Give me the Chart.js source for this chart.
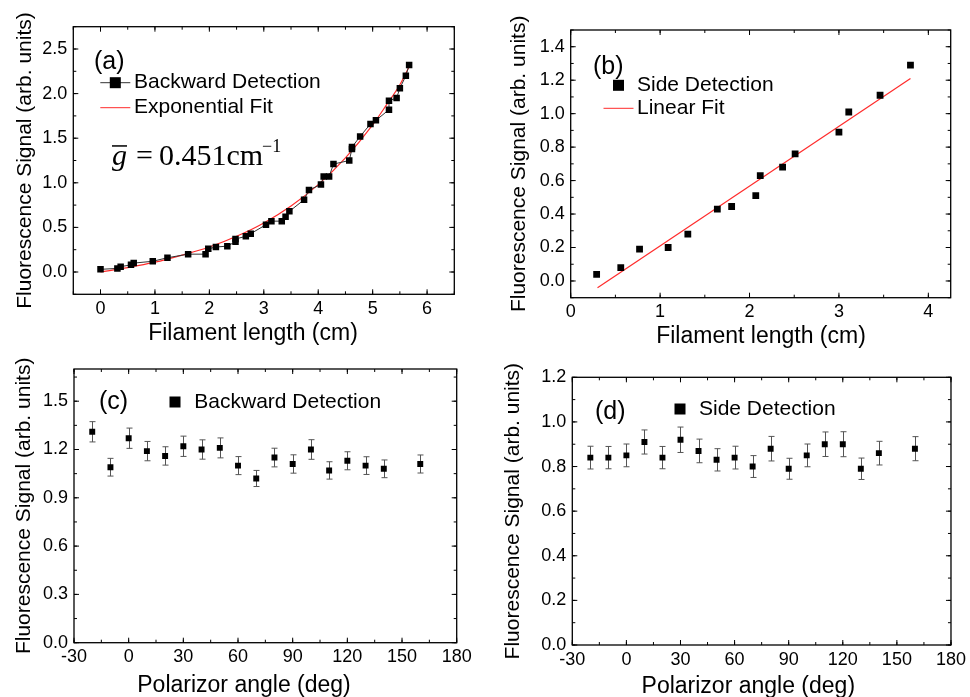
<!DOCTYPE html>
<html>
<head>
    <meta charset="UTF-8">
    <title>Fluorescence Signal</title>
    <style>
        body { margin: 0; background: #fff; }
        canvas { position: absolute; }
    </style>
    <script src="https://cdn.jsdelivr.net/npm/chart.js@4.4.1/dist/chart.umd.min.js"></script>
</head>
<body>
    <canvas id="chartA" width="485" height="346" style="left:0px; top:0px;"></canvas>
    <canvas id="chartB" width="485" height="350" style="left:485px; top:0px;"></canvas>
    <canvas id="chartC" width="485" height="353" style="left:0px; top:345px;"></canvas>
    <canvas id="chartD" width="485" height="354" style="left:485px; top:345px;"></canvas>

    <script>
        // (a) backward detection vs filament length
        const lengthA = [0, 0.31, 0.37, 0.56, 0.61, 0.96, 1.23, 1.61, 1.93, 1.98, 2.12, 2.33, 2.48, 2.48, 2.67, 2.76, 3.04, 3.14, 3.33, 3.40,
                         3.47, 3.74, 3.83, 4.05, 4.10, 4.20, 4.28, 4.57, 4.62, 4.62, 4.77, 4.96, 5.06, 5.30, 5.30, 5.44, 5.50, 5.61, 5.67];
        const signalA = [0.03, 0.04, 0.06, 0.08, 0.10, 0.12, 0.16, 0.20, 0.20, 0.26, 0.28, 0.29, 0.34, 0.37, 0.40, 0.43, 0.53, 0.57, 0.57, 0.62,
                         0.68, 0.81, 0.92, 0.98, 1.07, 1.07, 1.21, 1.25, 1.38, 1.40, 1.52, 1.66, 1.70, 1.82, 1.92, 1.95, 2.06, 2.20, 2.32];
        const fitLengthA = [0, 0.5, 1, 1.5, 2, 2.5, 3, 3.5, 4, 4.5, 5, 5.25, 5.5, 5.67];
        const fitSignalA = [0, 0.05, 0.11, 0.19, 0.28, 0.40, 0.55, 0.74, 0.98, 1.28, 1.65, 1.87, 2.10, 2.30];

        // (b) side detection vs filament length
        const lengthB = [0.29, 0.56, 0.77, 1.09, 1.31, 1.64, 1.80, 2.07, 2.12, 2.37, 2.51, 3.00, 3.11, 3.46, 3.80];
        const signalB = [0.04, 0.08, 0.19, 0.20, 0.28, 0.43, 0.445, 0.51, 0.63, 0.68, 0.76, 0.89, 1.01, 1.11, 1.29];
        const fitLengthB = [0.30, 3.80];
        const fitSignalB = [-0.04, 1.21];

        // (c), (d) signal vs polarizer angle
        const angles = [-20, -10, 0, 10, 20, 30, 40, 50, 60, 70, 80, 90, 100, 110, 120, 130, 140, 160];
        const signalC = [1.31, 1.09, 1.27, 1.19, 1.16, 1.22, 1.20, 1.21, 1.10, 1.02, 1.15, 1.11, 1.20, 1.07, 1.13, 1.10, 1.08, 1.11];
        const errorC = [0.063, 0.055, 0.063, 0.060, 0.057, 0.063, 0.060, 0.062, 0.056, 0.050, 0.058, 0.057, 0.061, 0.054, 0.056, 0.055, 0.055, 0.056];
        const signalD = [0.84, 0.84, 0.85, 0.91, 0.84, 0.92, 0.87, 0.83, 0.84, 0.80, 0.88, 0.79, 0.85, 0.90, 0.90, 0.79, 0.86, 0.88];
        const errorD = [0.051, 0.050, 0.051, 0.054, 0.050, 0.057, 0.053, 0.050, 0.051, 0.049, 0.055, 0.047, 0.051, 0.055, 0.056, 0.048, 0.053, 0.054];

        // tick labels
        const ticksLengthA = [0, 1, 2, 3, 4, 5, 6];
        const ticksSignalA = [0, 0.5, 1.0, 1.5, 2.0, 2.5];
        const ticksLengthB = [0, 1, 2, 3, 4];
        const ticksSignalB = [0, 0.2, 0.4, 0.6, 0.8, 1.0, 1.2, 1.4];
        const ticksAngle = [-30, 0, 30, 60, 90, 120, 150, 180];
        const ticksSignalC = [0, 0.3, 0.6, 0.9, 1.2, 1.5];
        const ticksSignalD = [0, 0.2, 0.4, 0.6, 0.8, 1.0, 1.2];

        const FONT = "'Liberation Sans', Arial, sans-serif";
        Chart.defaults.font.family = FONT;
        Chart.defaults.color = "#000";

        function pairs(xs, ys) {
            return xs.map((x, i) => ({ x: x, y: ys[i] }));
        }
        function steps(from, to, step) {
            const out = [];
            for (let v = from; v <= to + 1e-9; v += step) out.push(+v.toFixed(4));
            return out;
        }

        // frame with inward ticks on all sides, error bars, in-plot legend, x title
        const panelPlugin = {
            id: "panel",
            beforeDatasetsDraw(chart, args, opts) {
                if (!opts.errors) return;
                const { ctx, scales: { x, y } } = chart;
                const data = chart.data.datasets[0].data;
                ctx.save();
                ctx.strokeStyle = "#555";
                ctx.lineWidth = 1;
                opts.errors.forEach((e, i) => {
                    const px = Math.round(x.getPixelForValue(data[i].x)) + 0.5;
                    const top = y.getPixelForValue(data[i].y + e);
                    const bot = y.getPixelForValue(data[i].y - e);
                    ctx.beginPath();
                    ctx.moveTo(px, top); ctx.lineTo(px, bot);
                    ctx.moveTo(px - 3, top); ctx.lineTo(px + 3, top);
                    ctx.moveTo(px - 3, bot); ctx.lineTo(px + 3, bot);
                    ctx.stroke();
                });
                ctx.restore();
            },
            afterDraw(chart, args, opts) {
                const { ctx, chartArea: a, scales: { x, y } } = chart;
                ctx.save();
                ctx.strokeStyle = "#000";
                ctx.lineWidth = 1.3;
                ctx.strokeRect(a.left, a.top, a.right - a.left, a.bottom - a.top);
                ctx.lineWidth = 1;
                ctx.beginPath();
                const tickX = (v, len) => {
                    const p = x.getPixelForValue(v);
                    ctx.moveTo(p, a.bottom); ctx.lineTo(p, a.bottom - len);
                    ctx.moveTo(p, a.top); ctx.lineTo(p, a.top + len);
                };
                const tickY = (v, len) => {
                    const p = y.getPixelForValue(v);
                    ctx.moveTo(a.left, p); ctx.lineTo(a.left + len, p);
                    ctx.moveTo(a.right, p); ctx.lineTo(a.right - len, p);
                };
                x.ticks.forEach(t => tickX(t.value, 5));
                y.ticks.forEach(t => tickY(t.value, 5));
                opts.minorX.forEach(v => tickX(v, 3));
                opts.minorY.forEach(v => tickY(v, 3));
                ctx.stroke();

                // x axis title (sits a bit off the plot centre in the original)
                ctx.fillStyle = "#000";
                ctx.textAlign = "center";
                ctx.textBaseline = "alphabetic";
                ctx.font = "23px " + FONT;
                ctx.fillText(opts.xTitle[0], opts.xTitle[1], opts.xTitle[2]);

                // legend
                ctx.textBaseline = "middle";
                ctx.textAlign = "left";
                ctx.font = "25px " + FONT;
                ctx.fillText(opts.tag[0], a.left + opts.tag[1], a.top + opts.tag[2]);
                ctx.font = "21px " + FONT;
                opts.items.forEach(it => {
                    const cx = a.left + it.x, cy = a.top + it.y;
                    if (it.line) {
                        ctx.strokeStyle = it.line;
                        ctx.beginPath();
                        ctx.moveTo(cx - 15, cy); ctx.lineTo(cx + 15, cy);
                        ctx.stroke();
                    }
                    if (it.square) ctx.fillRect(cx - 5.5, cy - 5.5, 11, 11);
                    ctx.fillText(it.text, a.left + it.tx, cy);
                });

                if (opts.formula) {
                    const fx = a.left + 38.7, fy = a.top + 138.5;
                    ctx.textBaseline = "alphabetic";
                    ctx.font = "italic 30px 'Liberation Serif', serif";
                    ctx.fillText("g", fx, fy);
                    ctx.fillRect(fx, fy - 20, 15, 1.5);
                    ctx.font = "30px 'Liberation Serif', serif";
                    ctx.fillText("=", fx + 24, fy);
                    ctx.fillText("0.451cm", fx + 47, fy);
                    ctx.font = "18px 'Liberation Serif', serif";
                    ctx.fillText("\u22121", fx + 150, fy - 13);
                }
                ctx.restore();
            }
        };

        function makePanel(id, p) {
            return new Chart(document.getElementById(id), {
                type: "scatter",
                data: { datasets: p.datasets },
                options: {
                    responsive: false,
                    animation: false,
                    layout: { padding: { left: 0, top: p.pad[0], right: p.pad[1], bottom: 0 } },
                    plugins: {
                        legend: { display: false },
                        tooltip: { enabled: false },
                        panel: p.panel,
                    },
                    scales: {
                        x: {
                            min: p.xRange[0], max: p.xRange[1],
                            grid: { display: false, drawTicks: false },
                            border: { display: false },
                            afterBuildTicks: s => { s.ticks = p.xTicks.map(v => ({ value: v })); },
                            afterFit: s => { s.height = p.xHeight; },
                            ticks: { font: { size: 18 }, padding: 4, maxRotation: 0, autoSkip: false, callback: v => String(v) },
                        },
                        y: {
                            min: p.yRange[0], max: p.yRange[1],
                            grid: { display: false, drawTicks: false },
                            border: { display: false },
                            afterBuildTicks: s => { s.ticks = p.yTicks.map(v => ({ value: v })); },
                            afterFit: s => { s.width = p.yWidth; },
                            ticks: { font: { size: 18 }, padding: 6, autoSkip: false, callback: v => v.toFixed(1) },
                            title: { display: true, text: "Fluorescence Signal (arb. units)", font: { size: 21 }, padding: { top: p.yTitlePad, bottom: 0 } },
                        },
                    },
                },
                plugins: [panelPlugin],
            });
        }

        const squares = (pts, r) => ({
            data: pts, showLine: false, pointStyle: "rect", pointRadius: r,
            backgroundColor: "#000", borderWidth: 0, pointBorderWidth: 0,
        });
        const fitLine = pts => ({
            data: pts, showLine: true, pointRadius: 0, borderColor: "#ff2b2b",
            borderWidth: 1.2, cubicInterpolationMode: "monotone", fill: false,
        });

        makePanel("chartA", {
            pad: [26.7, 30.7], yWidth: 73.3, xHeight: 51.7, yTitlePad: 13,
            xRange: [-0.5, 6.5], yRange: [-0.25, 2.75],
            xTicks: ticksLengthA, yTicks: ticksSignalA,
            datasets: [
                Object.assign(squares(pairs(lengthA, signalA), 4.6), { showLine: true, borderColor: "#333", borderWidth: 1 }),
                fitLine(pairs(fitLengthA, fitSignalA)),
            ],
            panel: {
                minorX: steps(-0.5, 6.5, 0.5), minorY: steps(-0.25, 2.75, 0.25),
                xTitle: ["Filament length (cm)", 253, 340],
                tag: ["(a)", 20.7, 35],
                items: [
                    { x: 42, y: 56, line: "#333", square: true, text: "Backward Detection", tx: 60.7 },
                    { x: 42, y: 81, line: "#ff2b2b", text: "Exponential Fit", tx: 60.7 },
                ],
                formula: true,
            },
        });

        makePanel("chartB", {
            pad: [30, 19.3], yWidth: 85.7, xHeight: 52.3, yTitlePad: 22,
            xRange: [0, 4.25], yRange: [-0.1, 1.5],
            xTicks: ticksLengthB, yTicks: ticksSignalB,
            datasets: [
                squares(pairs(lengthB, signalB), 4.8),
                fitLine(pairs(fitLengthB, fitSignalB)),
            ],
            panel: {
                minorX: steps(0, 4.25, 0.5), minorY: steps(-0.1, 1.5, 0.1),
                xTitle: ["Filament length (cm)", 276, 343.3],
                tag: ["(b)", 22.3, 36.7],
                items: [
                    { x: 47.8, y: 55.3, square: true, text: "Side Detection", tx: 66.3 },
                    { x: 47.8, y: 78.3, line: "#ff2b2b", text: "Linear Fit", tx: 66.3 },
                ],
            },
        });

        makePanel("chartC", {
            pad: [24, 28.3], yWidth: 74, xHeight: 55.3, yTitlePad: 12,
            xRange: [-30, 180], yRange: [0, 1.7],
            xTicks: ticksAngle, yTicks: ticksSignalC,
            datasets: [squares(pairs(angles, signalC), 4.2)],
            panel: {
                minorX: steps(-30, 180, 15), minorY: steps(0, 1.65, 0.15),
                errors: errorC,
                xTitle: ["Polarizor angle (deg)", 244, 346.7],
                tag: ["(c)", 25, 32.7],
                items: [{ x: 101, y: 33, square: true, text: "Backward Detection", tx: 120.3 }],
            },
        });

        makePanel("chartD", {
            pad: [32.3, 17.3], yWidth: 87.3, xHeight: 54, yTitlePad: 16,
            xRange: [-30, 180], yRange: [0, 1.2],
            xTicks: ticksAngle, yTicks: ticksSignalD,
            datasets: [squares(pairs(angles, signalD), 4.2)],
            panel: {
                minorX: steps(-30, 180, 15), minorY: steps(0, 1.2, 0.1),
                errors: errorD,
                xTitle: ["Polarizor angle (deg)", 263.3, 347.7],
                tag: ["(d)", 22.7, 34.4],
                items: [{ x: 107.7, y: 31.7, square: true, text: "Side Detection", tx: 126.7 }],
            },
        });
    </script>
</body>
</html>
